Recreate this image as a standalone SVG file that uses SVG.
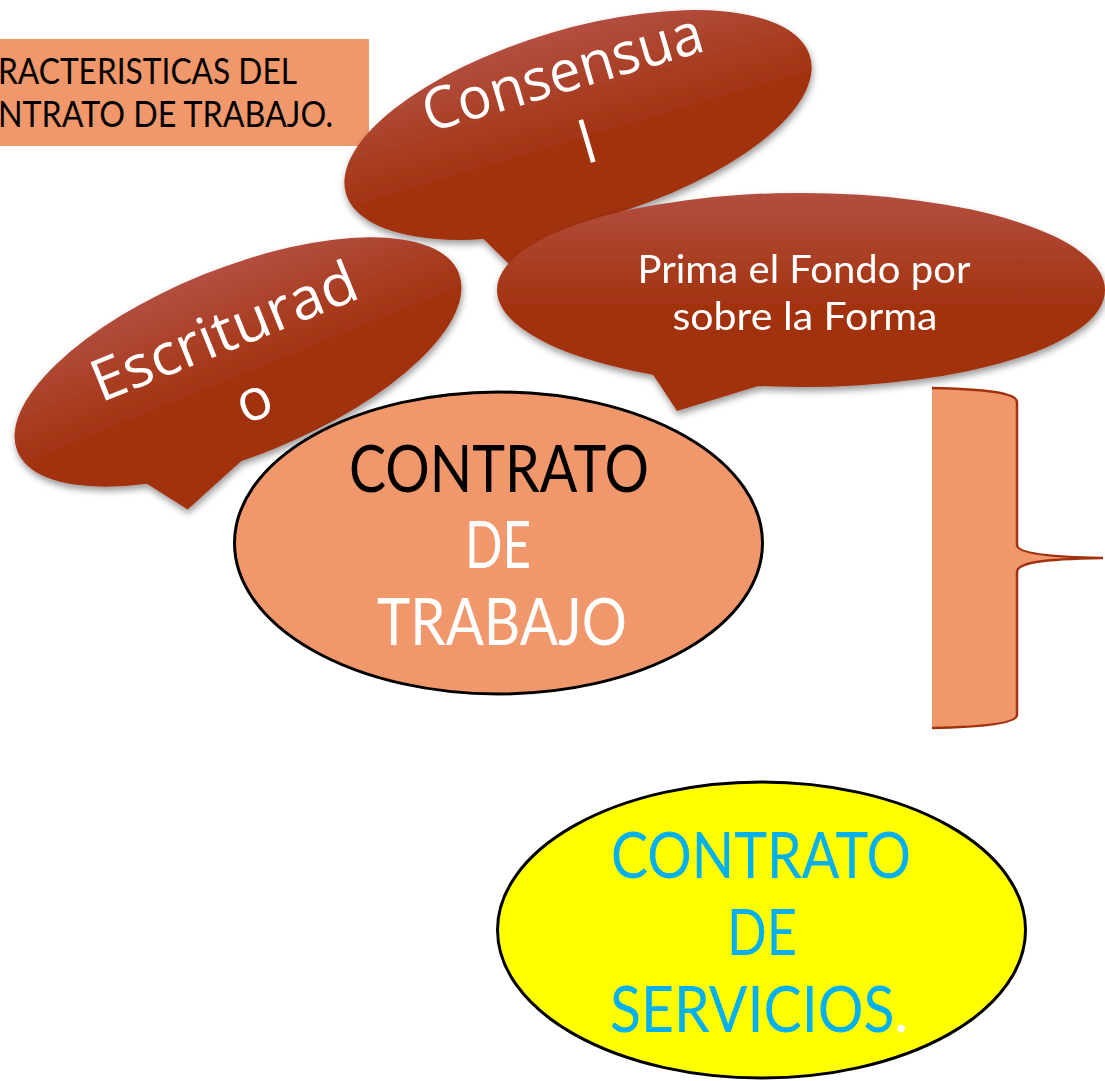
<svg xmlns="http://www.w3.org/2000/svg" width="1105" height="1081" viewBox="0 0 1105 1081">
  <defs>
    <linearGradient id="bubbleGrad" x1="0" y1="0" x2="0" y2="1">
      <stop offset="0" stop-color="#B34F40"/>
      <stop offset="0.6" stop-color="#A2320F"/>
      <stop offset="1" stop-color="#A0300E"/>
    </linearGradient>
    <filter id="shadow" x="-20%" y="-20%" width="140%" height="150%">
      <feDropShadow dx="1" dy="4" stdDeviation="3.5" flood-color="#000" flood-opacity="0.4"/>
    </filter>
    <style>
      .bubble { fill: url(#bubbleGrad); }
      .rot { font-family: "Open Sans", "Noto Sans", sans-serif; fill: #FFFFFF; text-anchor: middle; }
      .lbl { font-family: Lato, "Noto Sans", sans-serif; text-anchor: middle; }
      .peach { fill: #F0976B; }
      .oval { stroke: #000000; stroke-width: 3; }
    </style>
  </defs>
  <rect width="1105" height="1081" fill="#FFFFFF"/>

  <g id="title">
    <rect class="peach" x="0" y="39" width="369" height="107"/>
    <text font-family="Lato, 'Noto Sans', sans-serif" font-size="37" fill="#000000" x="-2" y="84" textLength="299" lengthAdjust="spacingAndGlyphs">RACTERISTICAS DEL</text>
    <text font-family="Lato, 'Noto Sans', sans-serif" font-size="37" fill="#000000" x="-2" y="127" textLength="335" lengthAdjust="spacingAndGlyphs">NTRATO DE TRABAJO.</text>
  </g>

  <g id="consensual" filter="url(#shadow)">
    <g transform="translate(578,125) rotate(-16.5)">
      <polygon points="-130,70 -91,140 -20,90" fill="#A2320F"/>
      <ellipse class="bubble" cx="0" cy="0" rx="242" ry="96"/>
      <text class="rot" font-size="58" x="0" y="-35" textLength="290" lengthAdjust="spacingAndGlyphs">Consensua</text>
      <text class="rot" font-size="58" x="4" y="40">l</text>
    </g>
  </g>

  <g id="prima" filter="url(#shadow)">
    <polygon points="650,370 677,411 768,383" fill="#A2320F"/>
    <ellipse class="bubble" cx="801" cy="290" rx="304" ry="97"/>
    <text class="lbl" font-size="39" fill="#FFFFFF" x="804" y="283" textLength="333" lengthAdjust="spacingAndGlyphs">Prima el Fondo por</text>
    <text class="lbl" font-size="39" fill="#FFFFFF" x="805" y="330" textLength="265" lengthAdjust="spacingAndGlyphs">sobre la Forma</text>
  </g>

  <g id="escriturado" filter="url(#shadow)">
    <g transform="translate(238,362) rotate(-22)">
      <polygon points="-135,72 -102,118 -20,88" fill="#A2320F"/>
      <ellipse class="bubble" cx="0" cy="0" rx="238" ry="94"/>
      <text class="rot" font-size="58" x="-1.5" y="-13.5" textLength="282" lengthAdjust="spacingAndGlyphs">Escriturad</text>
      <text class="rot" font-size="58" x="0" y="61">o</text>
    </g>
  </g>

  <g id="bracket">
    <path class="peach" d="M932,388 C985,389 1017,393 1017,402 L1017,545 C1017,552 1040,557 1103,558 C1040,559 1017,563 1017,572 L1017,715 C1017,723 985,727 932,728 Z"/>
    <path d="M932,388 C985,389 1017,393 1017,402 L1017,545 C1017,552 1040,557 1103,558 C1040,559 1017,563 1017,572 L1017,715 C1017,723 985,727 932,728" fill="none" stroke="#A2320F" stroke-width="2.5"/>
  </g>

  <g id="contrato-trabajo">
    <ellipse class="peach oval" cx="498.5" cy="543" rx="264" ry="151"/>
    <text class="lbl" font-size="65" fill="#000000" x="499" y="492" textLength="300" lengthAdjust="spacingAndGlyphs">CONTRATO</text>
    <text class="lbl" font-size="65" fill="#FFFFFF" x="498" y="568" textLength="66" lengthAdjust="spacingAndGlyphs">DE</text>
    <text class="lbl" font-size="65" fill="#FFFFFF" x="502" y="645" textLength="250" lengthAdjust="spacingAndGlyphs">TRABAJO</text>
  </g>

  <g id="contrato-servicios">
    <ellipse class="oval" fill="#FFFF00" cx="761.5" cy="930" rx="264" ry="148"/>
    <text class="lbl" font-size="63" fill="#00B0F0" x="761" y="878" textLength="300" lengthAdjust="spacingAndGlyphs">CONTRATO</text>
    <text class="lbl" font-size="63" fill="#00B0F0" x="762" y="955" textLength="70" lengthAdjust="spacingAndGlyphs">DE</text>
    <text class="lbl" font-size="63" fill="#00B0F0" x="759" y="1032" textLength="298" lengthAdjust="spacingAndGlyphs">SERVICIOS<tspan fill="#FFFFFF">.</tspan></text>
  </g>
</svg>
